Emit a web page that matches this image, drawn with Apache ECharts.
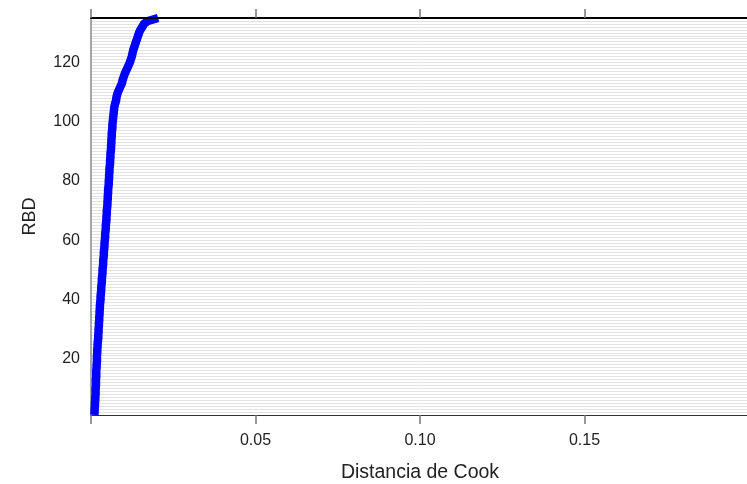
<!DOCTYPE html>
<html>
<head>
<meta charset="utf-8">
<script src="https://cdn.jsdelivr.net/npm/echarts@6/dist/echarts.min.js"></script>
<style>
  html, body { margin: 0; padding: 0; background: #fff; }
  #chart { width: 747px; height: 484px; }
</style>
</head>
<body>
<div id="chart"></div>
<script>
// Sorted Cook's distance for each observation (1..135)
const cookDistance = [
  0.0010, 0.0011, 0.0011, 0.0012, 0.0012, 0.0013,
  0.0013, 0.0014, 0.0014, 0.0014, 0.0015, 0.0015, 0.0015, 0.0016, 0.0016, 0.0016,
  0.0017, 0.0017, 0.0018, 0.0018, 0.0018, 0.0019, 0.0019, 0.0020, 0.0020, 0.0021,
  0.0022, 0.0022, 0.0023, 0.0023, 0.0024, 0.0024, 0.0025, 0.0025, 0.0026, 0.0026,
  0.0027, 0.0027, 0.0028, 0.0029, 0.0029, 0.0030, 0.0031,
  0.0031, 0.0032, 0.0033, 0.0033, 0.0034, 0.0035, 0.0035, 0.0036, 0.0037, 0.0037,
  0.0038, 0.0039, 0.0039, 0.0040, 0.0041, 0.0041, 0.0042, 0.0043, 0.0043, 0.0044,
  0.0045, 0.0045, 0.0046, 0.0047,
  0.0047, 0.0048, 0.0048, 0.0049, 0.0050, 0.0050, 0.0051, 0.0051, 0.0052, 0.0052,
  0.0053, 0.0054, 0.0054, 0.0055, 0.0055, 0.0056, 0.0056, 0.0057, 0.0058, 0.0058,
  0.0059, 0.0059, 0.0060,
  0.0061, 0.0061, 0.0062, 0.0062, 0.0063, 0.0063, 0.0064, 0.0065, 0.0065, 0.0066,
  0.0067, 0.0068, 0.0069, 0.0070, 0.0071, 0.0073, 0.0076,
  0.0077, 0.0079, 0.0082, 0.0086, 0.0090, 0.0094,
  0.0096, 0.0099, 0.0102, 0.0106, 0.0110, 0.0114, 0.0118,
  0.0121, 0.0124, 0.0126, 0.0128, 0.0131, 0.0134, 0.0137,
  0.0140, 0.0143, 0.0146, 0.0150, 0.0156, 0.0161,
  0.0173, 0.0204
];
// Observation index (RBD)
const rbd = cookDistance.map((_, i) => i + 1);
const xTickLabels = ['0.05', '0.10', '0.15'];
const yTickLabels = [20, 40, 60, 80, 100, 120];

const FONT = '"Liberation Sans", Arial, sans-serif';
const chart = echarts.init(document.getElementById('chart'), null, { renderer: 'canvas' });

chart.setOption({
  animation: false,
  backgroundColor: '#ffffff',
  grid: { left: 91, top: 18, bottom: 69, right: -2, outerBoundsMode: 'none', containLabel: false },
  xAxis: [
    {
      type: 'value', position: 'bottom', min: 0, max: 0.2, interval: 0.05,
      name: 'Distancia de Cook', nameLocation: 'middle', nameGap: 48,
      nameTextStyle: { fontFamily: FONT, fontSize: 19.5, color: '#222' },
      axisLine: { show: true, onZero: false, lineStyle: { color: '#333', width: 1.2 } },
      axisTick: { show: true, length: 9, lineStyle: { color: '#777', width: 1.5 } },
      axisLabel: {
        margin: 18, fontFamily: FONT, fontSize: 16, color: '#222',
        formatter: v => {
          const s = v.toFixed(2);
          return xTickLabels.includes(s) ? s : '';
        }
      },
      splitLine: { show: false }
    },
    {
      type: 'value', position: 'top', min: 0, max: 0.2, interval: 0.05,
      axisLine: { show: true, onZero: false, lineStyle: { color: '#000', width: 2 } },
      axisTick: { show: true, length: 9, lineStyle: { color: '#777', width: 1.5 } },
      axisLabel: { show: false },
      splitLine: { show: false },
      z: 5
    }
  ],
  yAxis: {
    type: 'value', min: 1, max: 135, interval: 1,
    name: 'RBD', nameLocation: 'middle', nameGap: 52, nameRotate: 90,
    nameTextStyle: { fontFamily: FONT, fontSize: 18, color: '#222' },
    axisLine: { show: true, onZero: false, lineStyle: { color: '#888', width: 1.5 } },
    axisTick: { show: false },
    axisLabel: {
      margin: 11, fontFamily: FONT, fontSize: 16, color: '#222',
      padding: [4, 0, 0, 0],
      formatter: v => (yTickLabels.includes(v) ? String(v) : '')
    },
    splitLine: { show: true, lineStyle: { color: '#e2e2e2', width: 1 } }
  },
  series: [{
    type: 'line',
    xAxisIndex: 0,
    data: cookDistance.map((d, i) => [d, rbd[i]]),
    showSymbol: false,
    clip: true,
    lineStyle: { color: '#0000ff', width: 8.5, join: 'round' }
  }]
});
</script>
</body>
</html>
